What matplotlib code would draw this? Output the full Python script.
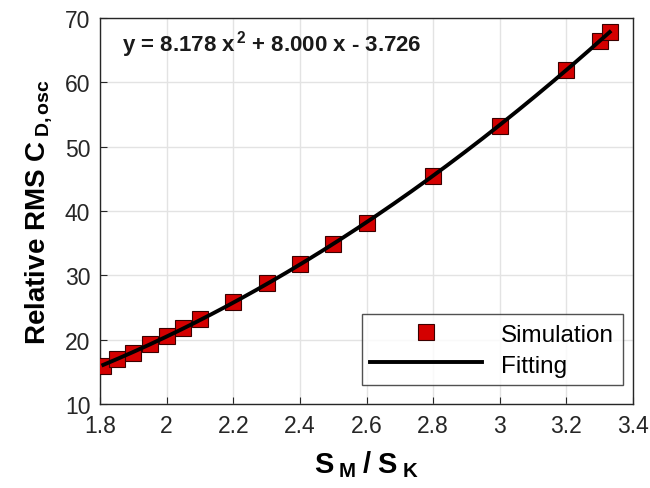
import numpy as np
import matplotlib
matplotlib.use("Agg")
import matplotlib.pyplot as plt

plt.rcParams['font.family'] = ['Liberation Sans', 'DejaVu Sans']
plt.rcParams['mathtext.fontset'] = 'custom'
plt.rcParams['mathtext.rm'] = 'Liberation Sans'
plt.rcParams['mathtext.bf'] = 'Liberation Sans:bold'
plt.rcParams['mathtext.it'] = 'Liberation Sans:italic'
plt.rcParams['mathtext.sf'] = 'Liberation Sans'

ratio = [1.81, 1.85, 1.90, 1.95, 2.00, 2.05, 2.10, 2.20, 2.30, 2.40, 2.50, 2.60, 2.80, 3.00, 3.20, 3.30, 3.33]
rms_cd = [15.9, 17.0, 18.0, 19.3, 20.5, 21.8, 23.2, 25.8, 28.8, 31.7, 34.8, 38.2, 45.4, 53.2, 61.9, 66.5, 67.9]
xticks = [1.8, 2.0, 2.2, 2.4, 2.6, 2.8, 3.0, 3.2, 3.4]
xticklabels = ['1.8', '2', '2.2', '2.4', '2.6', '2.8', '3', '3.2', '3.4']
yticks = [10, 20, 30, 40, 50, 60, 70]

coef = np.polyfit(ratio, rms_cd, 2)
xf = np.linspace(min(ratio), max(ratio), 200)
yf = np.polyval(coef, xf)

fig = plt.figure(figsize=(6.5, 4.89), dpi=100)
ax = fig.add_axes([100/650, 1-405/489, 533/650, 386/489])

ax.plot(ratio, rms_cd, 's', ms=12, mfc='#d40000', mec='#3a0000', mew=0.8,
        label='Simulation', zorder=3)
ax.plot(xf, yf, '-', color='black', lw=2.8, label='Fitting', zorder=4)

ax.set_xlim(1.8, 3.4)
ax.set_ylim(10, 70)
ax.set_xticks(xticks)
ax.set_xticklabels(xticklabels)
ax.set_yticks(yticks)
ax.grid(True, color='#e3e3e3', lw=1)
ax.set_axisbelow(True)
ax.tick_params(direction='in', length=5, labelsize=16.5, top=False, right=False,
               pad=7, colors='#262626', labelcolor='#262626')
for sp in ax.spines.values():
    sp.set_color('#262626')
    sp.set_linewidth(1)

ax.set_xlabel(r'$\mathbf{S}_{\mathbf{\;M}}\mathbf{\;/\;S}_{\mathbf{\;K}}$', fontsize=21, labelpad=8)
ax.set_ylabel(r'Relative RMS C$_{\mathbf{\;D,osc}}$', fontsize=20, fontweight='bold', labelpad=8)

ax.text(0.041, 0.935, r'y = 8.178 x$^{\mathbf{\,2}}$ + 8.000 x - 3.726', transform=ax.transAxes,
        fontsize=16, fontweight='bold', va='center', ha='left', color='#1a1a1a')

leg = ax.legend(loc='lower right', fontsize=17.5, frameon=True, fancybox=False,
                edgecolor='#262626', handlelength=4.6, borderpad=0.35, handleheight=1.0,
                labelspacing=0.25, handletextpad=0.8, borderaxespad=0,
                bbox_to_anchor=(0.981, 0.049))
leg.get_frame().set_linewidth(1)

fig.savefig('out.png', dpi=100)
